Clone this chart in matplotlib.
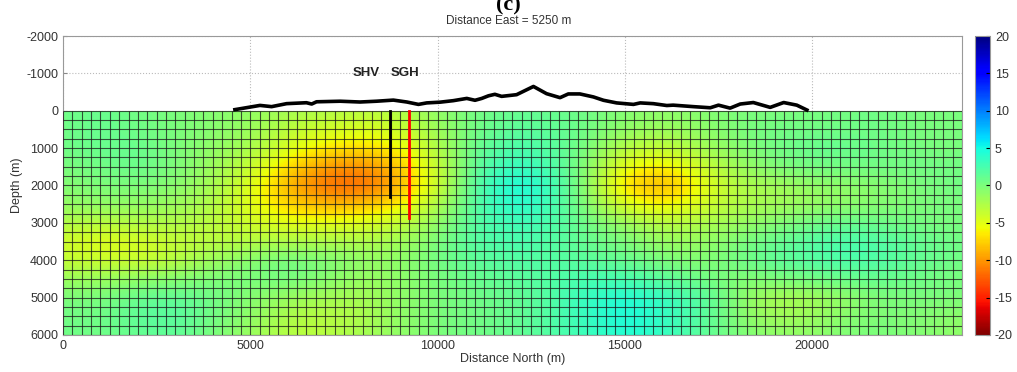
import numpy as np
import matplotlib
matplotlib.use('Agg')
import matplotlib.pyplot as plt
from matplotlib.patches import Rectangle

plt.rcParams['font.family'] = ['Liberation Sans', 'DejaVu Sans']
plt.rcParams['axes.unicode_minus'] = False

# model values on a coarse grid (x every 1000 m, depth every 500 m)
x_north = np.arange(0, 25000, 1000)
depth = np.arange(0, 6500, 500)
anomaly = np.array([
    [0.5, 1, 0.5, 0, -0.5, -1, -2, -2.5, -3, -2.5, -1, 0.5, 1, 1, 0.5, -0.5, -1, -0.5, 0, 0, 0, 0.5, 0.5, 0, 0],
    [0.5, 1, 0.5, 0, -0.5, -1.5, -3, -4, -4.5, -4, -1.5, 0.5, 1.5, 1.5, 0.5, -1, -1.5, -1, 0, 0.5, 0.5, 0.5, 0.5, 0, 0],
    [0.5, 1, 1, 0, -1, -2, -4.5, -6.5, -7, -6, -2.5, 1, 2.5, 2, 0, -3, -3.5, -2, -0.5, 0.5, 1, 1, 0.5, 0, 0],
    [0, 0.5, 1, 0, -1.5, -3.5, -7, -10, -10.5, -8, -3.5, 1.5, 3.5, 2.5, -0.5, -5.5, -6.5, -4, -1.5, 0, 0.5, 0.5, 0.5, 0.5, 0.5],
    [-0.5, 0, 0, -0.5, -2, -4.5, -9, -12, -12.5, -9, -4, 2, 5, 3.5, -1, -7.5, -9.5, -5.5, -2.5, -2, -1, -1, -0.5, 0, 0.5],
    [-1, -1, -1, -1.5, -2.5, -5, -7.5, -9, -8.5, -6.5, -2.5, 2, 4.5, 3, -0.5, -5, -6.5, -4.5, -2.5, -2, -1.5, -1, -0.5, 0, 0],
    [-2.5, -3, -2.5, -2.5, -3, -4, -5, -5, -4.5, -3.5, -1, 2, 3, 2.5, 0.5, -1.5, -3, -2.5, -1.5, -0.5, 0.5, 1, 0.5, 0, 0],
    [-4, -5, -4.5, -3.5, -3, -3, -2.5, -2.5, -2.5, -2, 0, 2, 2.5, 2, 1, 0, -1.5, -1.5, 0, 1, 2, 2.5, 2, 1, 0.5],
    [-3.5, -4, -4, -3, -1.5, -0.5, 0.5, 0, -1, -1, 0.5, 1.5, 2, 2, 1.5, 1, 0, -0.5, 0.5, 1.5, 2, 2.5, 2, 1, 0.5],
    [-1.5, -1.5, -1, -0.5, 0, 0, 0.5, -0.5, -1.5, -1, 0, 1, 1.5, 2, 2.5, 2.5, 1.5, 0.5, -0.5, 0, 0.5, 1, 1, 0.5, 0],
    [0, 0, 1, 1.5, 0.5, -0.5, -1.5, -2, -2, -1, 0, 0.5, 1, 2, 3.5, 4.5, 3.5, 2, -0.5, -2.5, -2, -1, 0, 0, 0],
    [0.5, 0.5, 1.5, 2, 0.5, -1, -2.5, -3, -2.5, -1, 0, 0.5, 1, 2, 3.5, 5, 3.5, 2, -0.5, -2, -1.5, -0.5, 0, -0.5, -1],
    [0.5, 0.5, 1, 1.5, 0, -1.5, -3, -3, -2, -1, 0, 0.5, 1, 2, 3, 4.5, 3.5, 1.5, 0, -1, -1, 0, 0, -0.5, -1],
])

# surface topography (negative = above sea level)
topo_x = [4590, 5260, 5570, 5970, 6500, 6640, 6770, 7400, 7930, 8370, 8820, 9180, 9490, 9710,
          10070, 10420, 10780, 11000, 11180, 11360, 11530, 11710, 12110, 12560, 12910, 13270,
          13490, 13800, 14160, 14430, 14780, 15230, 15410, 15760, 16120, 16290, 16830, 17280,
          17500, 17810, 18080, 18430, 18880, 19240, 19590, 19860]
topo_z = [-30, -143, -110, -190, -215, -180, -240, -255, -234, -255, -285, -234, -170, -210,
          -230, -270, -330, -280, -330, -400, -440, -385, -430, -650, -457, -350,
          -450, -450, -370, -280, -210, -170, -210, -190, -140, -150, -110, -80,
          -150, -70, -180, -220, -90, -220, -150, -20]

# wells: name, x, bottom depth, colour
well_names = ['SHV', 'SGH']
well_x = [8730, 9240]
well_bottom = [2310, 2880]
well_colors = ['black', 'red']
label_x = [8100, 9120]

fig = plt.figure(figsize=(10.17, 3.72), dpi=100)
ax = fig.add_axes([0.0619, 0.0995, 0.8840, 0.8037])
cax = fig.add_axes([0.9587, 0.0995, 0.0148, 0.8037])

im = ax.imshow(anomaly, cmap='jet_r', vmin=-20, vmax=20, aspect='auto',
               interpolation='bicubic',
               extent=(x_north[0] - 500, x_north[-1] + 500, depth[-1] + 250, depth[0] - 250),
               zorder=2)
im.set_clip_path(Rectangle((0, 0), 24000, 6000, transform=ax.transData))

# model mesh, 250 m cells
ax.vlines(np.arange(0, 24001, 250), 0, 6000, color='#1a1a1a', lw=0.8, alpha=0.75, zorder=3)
ax.hlines(np.arange(0, 6001, 250), 0, 24000, color='#1a1a1a', lw=0.8, alpha=0.75, zorder=3)

ax.plot(topo_x, topo_z, color='black', lw=2.6, solid_joinstyle='round', zorder=5)
for name, wx, wb, wc, lx in zip(well_names, well_x, well_bottom, well_colors, label_x):
    ax.plot([wx, wx], [0, wb], color=wc, lw=2, zorder=6)
    ax.text(lx, -1000, name, ha='center', va='center', fontsize=9.5,
            fontweight='bold', color='#222222')

ax.set_xlim(0, 24000)
ax.set_ylim(6000, -2000)
ax.set_xticks([0, 5000, 10000, 15000, 20000])
ax.set_yticks(np.arange(-2000, 6001, 1000))
ax.grid(True, linestyle=':', color='#bbbbbb', lw=0.8, zorder=0)
ax.set_axisbelow(True)
ax.tick_params(direction='in', length=3, labelsize=9, labelcolor='#333333', color='#888888')
for s in ax.spines.values():
    s.set_color('#999999')
ax.set_xlabel('Distance North (m)', fontsize=9, color='#333333', labelpad=1)
ax.set_ylabel('Depth (m)', fontsize=9, color='#333333', labelpad=2)

cb = fig.colorbar(im, cax=cax, ticks=np.arange(-20, 21, 5))
cb.ax.tick_params(labelsize=9, labelcolor='#333333', direction='in', length=3)
cb.outline.set_edgecolor('#999999')

fig.text(0.5, 1 - 21 / 372, 'Distance East = 5250 m', ha='center', va='center',
         fontsize=8.5, color='#333333')
fig.text(0.5, 1 - 15 / 372, '(c)', ha='center', va='bottom', fontsize=16, fontweight='bold',
         family=['Liberation Serif', 'DejaVu Serif'])

fig.savefig('out.png', dpi=100)
